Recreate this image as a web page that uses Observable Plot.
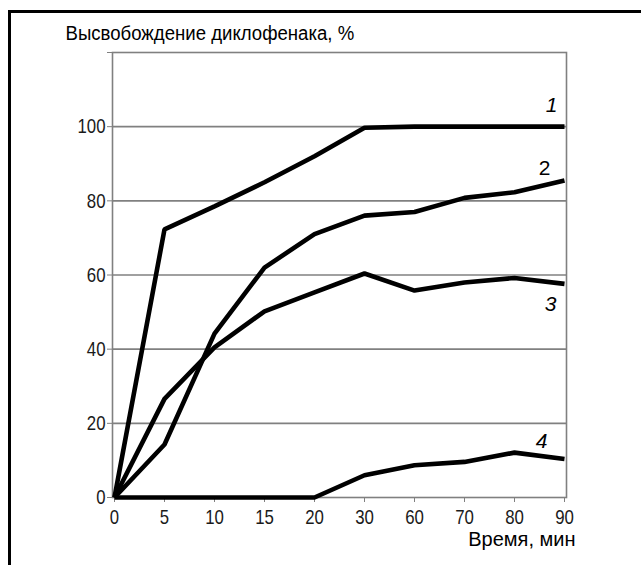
<!DOCTYPE html>
<html>
<head>
<meta charset="utf-8">
<script src="https://cdn.jsdelivr.net/npm/d3@7"></script>
<script src="https://cdn.jsdelivr.net/npm/@observablehq/plot@0.6"></script>
<style>
  html, body { margin: 0; padding: 0; background: #fff; }
  #wrap { position: relative; width: 641px; height: 565px; overflow: hidden; }
  #border { position: absolute; left: 8px; top: 10px; right: -10px; bottom: -10px; border-left: 3px solid #000; border-top: 3px solid #000; }
  #wrap svg { position: absolute; left: 0; top: 0; }
</style>
</head>
<body>
<div id="wrap"><div id="border"></div></div>
<script>
const times = ["0", "5", "10", "15", "20", "30", "60", "70", "80", "90"];
const series1 = [0, 72.3, 78.5, 85, 92, 99.7, 100, 100, 100, 100];
const series2 = [0, 14.3, 44.2, 62, 71, 76, 77, 80.8, 82.3, 85.5];
const series3 = [0, 26.6, 40.5, 50.2, 55.3, 60.4, 55.8, 58, 59.2, 57.6];
const series4 = [0, 0, 0, 0, 0, 6, 8.7, 9.6, 12.1, 10.4];
const seriesNames = ["1", "2", "3", "4"];
const yTicks = [0, 20, 40, 60, 80, 100, 120];
const gridValues = [20, 40, 60, 80, 100];
const yTitle = "Высвобождение диклофенака, %";
const xTitle = "Время, мин";

const allSeries = [series1, series2, series3, series4];
const rows = allSeries.flatMap((vals, k) => vals.map((v, i) => ({t: times[i], v, s: seriesNames[k]})));
const lastRows = allSeries.map((vals, k) => ({t: times[times.length - 1], v: vals[vals.length - 1], s: seriesNames[k]}));
const labelOffsets = {"1": [-13, -21], "2": [-20, -12], "3": [-14, 20], "4": [-23, -18]};
const labelStyle = {"1": "italic", "2": "normal", "3": "italic", "4": "italic"};

const font = "'Liberation Sans', Arial, sans-serif";

const chart = Plot.plot({
  width: 641,
  height: 565,
  marginLeft: 112,
  marginRight: 75,
  marginTop: 52,
  marginBottom: 68,
  style: {fontFamily: font, fontSize: "20px", background: "transparent", overflow: "visible"},
  x: {type: "point", domain: times, padding: 0},
  y: {domain: [0, 120]},
  marks: [
    Plot.ruleY(gridValues, {stroke: "#808080", strokeWidth: 1.6}),
    Plot.frame({stroke: "#808080", strokeWidth: 1.6}),
    Plot.axisY({ticks: yTicks, tickFormat: d => d === 120 ? "" : String(d), tickSize: 5, tickPadding: 2,
      stroke: "#808080", fill: "#1a1a1a", fontSize: 21, label: null, className: "narrow"}),
    Plot.axisX({tickSize: 5, tickPadding: 7, stroke: "#808080", fill: "#1a1a1a", fontSize: 21, label: null, className: "narrow"}),
    ...seriesNames.map(name => Plot.line(rows.filter(r => r.s === name), {
      x: "t", y: "v", stroke: "#000", strokeWidth: 4.6, strokeLinejoin: "miter", strokeLinecap: "butt"
    })),
    ...lastRows.map(r => Plot.text([r], {
      x: "t", y: "v", text: "s", dx: labelOffsets[r.s][0], dy: labelOffsets[r.s][1],
      fontSize: 21, fontStyle: labelStyle[r.s], fill: "#000"
    })),
    Plot.text([yTitle], {frameAnchor: "top-left", text: d => d, dx: -47, dy: -27, textAnchor: "start",
      fontSize: 20, fill: "#000", className: "tight"}),
    Plot.text([xTitle], {frameAnchor: "bottom-right", text: d => d, dx: 9, dy: 48, textAnchor: "end",
      fontSize: 20, fill: "#000"})
  ]
});
document.getElementById("wrap").appendChild(chart);
// condense text to mimic a narrow typeface
function condense(selector, factor) {
  chart.querySelectorAll(selector).forEach(t => {
    const len = t.getComputedTextLength();
    if (len > 0) {
      t.setAttribute("textLength", (len * factor).toFixed(1));
      t.setAttribute("lengthAdjust", "spacingAndGlyphs");
    }
  });
}
condense(".narrow text", 0.8);
condense(".tight text", 0.93);
</script>
</body>
</html>
